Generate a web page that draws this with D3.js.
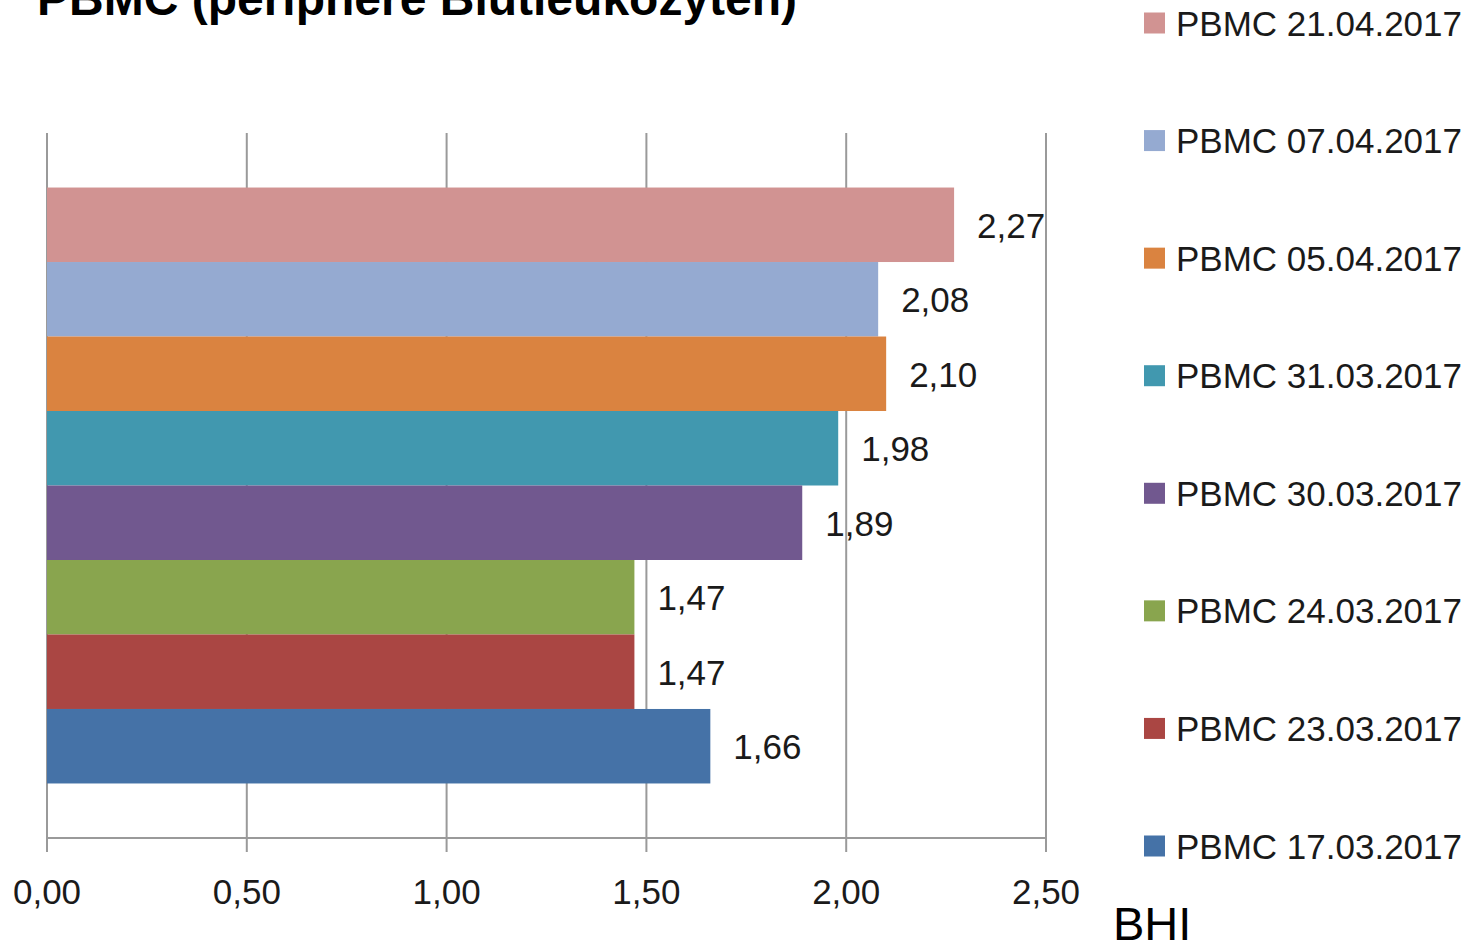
<!DOCTYPE html>
<html>
<head>
<meta charset="utf-8">
<script src="https://cdn.jsdelivr.net/npm/d3@7"></script>
<style>
  html, body { margin: 0; padding: 0; background: #fff; }
  svg { display: block; }
  text { font-family: "Liberation Sans", Arial, sans-serif; fill: #1a1a1a; }
</style>
</head>
<body>
<svg id="chart" width="1468" height="944"></svg>
<script>
// Measurement dates, top bar first
const seriesNames = [
  "PBMC 21.04.2017",
  "PBMC 07.04.2017",
  "PBMC 05.04.2017",
  "PBMC 31.03.2017",
  "PBMC 30.03.2017",
  "PBMC 24.03.2017",
  "PBMC 23.03.2017",
  "PBMC 17.03.2017"
];
const bhiValues = [2.27, 2.08, 2.10, 1.98, 1.89, 1.47, 1.47, 1.66];
const seriesColors = ["#D19392", "#95AAD1", "#DA8340", "#4198AF", "#71588F", "#89A54E", "#AA4643", "#4572A7"];
const xTicks = [0, 0.5, 1.0, 1.5, 2.0, 2.5];
const category = ["PBMC"];

const titleText = "PBMC (periphere Blutleukozyten)";
const axisTitle = "BHI";

const svg = d3.select("#chart");
const de = d3.formatLocale({ decimal: ",", thousands: ".", grouping: [3], currency: ["", " €"] });
const fmt = de.format(".2f");

const plot = { left: 47, right: 1046, top: 133, bottom: 838 };

const x = d3.scaleLinear().domain([0, 2.5]).range([plot.left, plot.right]);
const yCat = d3.scaleBand().domain(category).range([plot.top, plot.bottom])
  .paddingInner(0).paddingOuter(0.0915);
const ySeries = d3.scaleBand().domain(seriesNames)
  .range([0, yCat.bandwidth()]).padding(0);

// Title (partly above the top edge)
svg.append("text")
  .attr("x", 37).attr("y", 15)
  .style("font-size", "48px").style("font-weight", "bold").style("fill", "#000")
  .text(titleText);

// Vertical gridlines, extending below the axis as tick marks
svg.append("g").selectAll("line").data(xTicks).join("line")
  .attr("x1", d => x(d)).attr("x2", d => x(d))
  .attr("y1", plot.top).attr("y2", plot.bottom + 14)
  .attr("stroke", "#9a9a9a").attr("stroke-width", 2);

// Axis line
svg.append("line")
  .attr("x1", x(0)).attr("x2", x(2.5))
  .attr("y1", plot.bottom).attr("y2", plot.bottom)
  .attr("stroke", "#9a9a9a").attr("stroke-width", 2);

// Bars
const data = seriesNames.map((s, i) => ({ name: s, value: bhiValues[i], color: seriesColors[i] }));
const g = svg.append("g").attr("transform", `translate(0,${yCat(category[0])})`);
g.selectAll("rect").data(data).join("rect")
  .attr("x", x(0))
  .attr("y", d => ySeries(d.name))
  .attr("width", d => x(d.value) - x(0))
  .attr("height", ySeries.bandwidth())
  .attr("fill", d => d.color);

// Value labels
g.selectAll("text.val").data(data).join("text")
  .attr("class", "val")
  .attr("x", d => x(d.value) + 23)
  .attr("y", d => ySeries(d.name) + ySeries.bandwidth() / 2 + 13)
  .style("font-size", "35px")
  .text(d => fmt(d.value));

// Tick labels
svg.append("g").selectAll("text").data(xTicks).join("text")
  .attr("x", d => x(d)).attr("y", 904)
  .attr("text-anchor", "middle")
  .style("font-size", "35px")
  .text(d => fmt(d));

// Axis title
svg.append("text")
  .attr("x", 1113).attr("y", 940)
  .style("font-size", "47px").style("fill", "#000")
  .text(axisTitle);

// Legend
const legendY = d3.scalePoint().domain(seriesNames).range([23, 846]);
const lg = svg.append("g").selectAll("g").data(data).join("g")
  .attr("transform", d => `translate(1144,${legendY(d.name)})`);
lg.append("rect")
  .attr("x", 0).attr("y", -10.5).attr("width", 21).attr("height", 21)
  .attr("fill", d => d.color);
lg.append("text")
  .attr("x", 32).attr("y", 12.5)
  .style("font-size", "35px")
  .text(d => d.name);
</script>
</body>
</html>
